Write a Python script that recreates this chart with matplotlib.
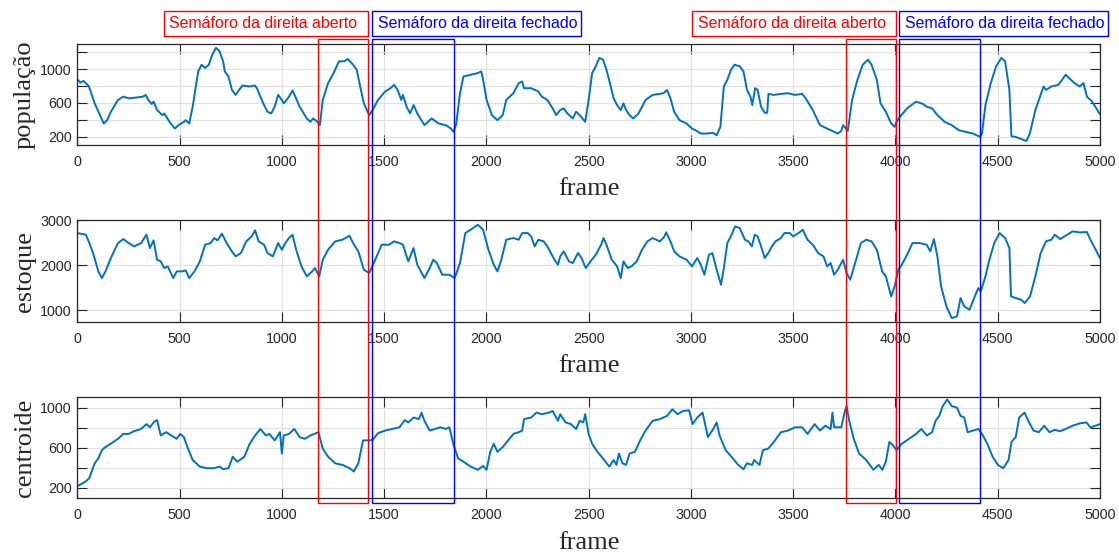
import matplotlib
matplotlib.use("Agg")
import matplotlib.pyplot as plt
from matplotlib.patches import Rectangle
from matplotlib.transforms import blended_transform_factory

plt.rcParams["font.family"] = ["Liberation Sans", "DejaVu Sans"]

# ---------------------------------------------------------------- data
pop_frames = [0, 15, 30, 56, 85, 129, 146, 164, 199, 225, 251, 286, 321, 334, 347, 364, 373, 390, 416, 425,
              451, 477, 495, 521, 530, 547, 564, 591, 608, 625, 643, 660, 678, 695, 713, 721, 739, 756, 774, 791,
              808, 843, 869, 878, 895, 913, 930, 948, 965, 982, 1000, 1009, 1017, 1035, 1052, 1066, 1087, 1122,
              1139, 1153, 1174, 1186, 1200, 1226, 1253, 1279, 1305, 1322, 1348, 1366, 1383, 1401, 1427, 1444,
              1470, 1505, 1531, 1549, 1566, 1584, 1592, 1610, 1627, 1644, 1662, 1697, 1732, 1767, 1801, 1827,
              1840, 1853, 1871, 1888, 1923, 1958, 1975, 1984, 2001, 2027, 2054, 2080, 2097, 2132, 2158, 2175,
              2184, 2219, 2254, 2271, 2298, 2324, 2341, 2361, 2378, 2396, 2422, 2439, 2456, 2483, 2500, 2517,
              2535, 2552, 2570, 2587, 2604, 2622, 2639, 2657, 2670, 2683, 2700, 2718, 2744, 2778, 2813, 2848,
              2865, 2883, 2900, 2918, 2944, 2979, 3005, 3022, 3048, 3074, 3109, 3126, 3144, 3161, 3178, 3196,
              3213, 3239, 3257, 3274, 3291, 3300, 3314, 3326, 3343, 3361, 3373, 3379, 3405, 3440, 3474, 3509,
              3544, 3561, 3596, 3631, 3683, 3718, 3735, 3744, 3767, 3788, 3814, 3840, 3866, 3883, 3909, 3927,
              3953, 3979, 3996, 4005, 4022, 4057, 4101, 4135, 4153, 4179, 4205, 4240, 4275, 4310, 4344, 4379,
              4414, 4423, 4440, 4466, 4492, 4518, 4536, 4557, 4567, 4588, 4623, 4640, 4657, 4684, 4701, 4724,
              4736, 4762, 4797, 4832, 4849, 4875, 4901, 4919, 4936, 4962, 4997, 5000]
pop_values = [880, 840, 860, 800, 596, 358, 398, 497, 636, 675, 655, 663, 675, 695, 636, 588, 616, 517, 457, 477,
              378, 299, 339, 378, 398, 358, 556, 972, 1051, 1012, 1051, 1170, 1250, 1210, 1091, 972, 913, 754, 695,
              754, 806, 794, 806, 774, 675, 576, 497, 477, 556, 695, 636, 596, 616, 675, 747, 675, 556, 418,
              378, 418, 378, 339, 636, 834, 952, 1091, 1091, 1119, 1051, 992, 794, 596, 457, 517,
              636, 735, 774, 814, 754, 636, 695, 556, 477, 576, 477, 339, 418, 358, 339, 299,
              260, 358, 715, 913, 933, 952, 972, 873, 636, 457, 398, 457, 636, 715, 834, 853,
              774, 774, 735, 675, 636, 537, 457, 517, 537, 477, 418, 497, 457, 378, 636, 952,
              1032, 1131, 1111, 992, 834, 655, 576, 517, 596, 517, 457, 418, 477, 636, 695, 707,
              715, 754, 655, 497, 398, 358, 299, 279, 240, 240, 248, 220, 319, 794, 873, 992,
              1051, 1032, 972, 754, 675, 576, 774, 754, 556, 485, 485, 707, 695, 707, 715, 695,
              707, 655, 517, 339, 279, 240, 271, 339, 271, 636, 873, 1051, 1111, 1051, 873, 596,
              497, 358, 319, 378, 438, 537, 616, 588, 556, 537, 457, 378, 339, 279, 259, 240,
              200, 240, 576, 834, 1032, 1131, 1091, 754, 208, 200, 168, 152, 240, 517, 636, 794,
              754, 794, 814, 933, 893, 834, 794, 834, 675, 616, 477, 470]

stock_frames = [0, 42, 59, 77, 103, 120, 138, 164, 199, 225, 251, 277, 312, 338, 355, 373, 390, 408, 425, 442,
                469, 486, 512, 530, 547, 573, 599, 625, 652, 669, 686, 707, 730, 756, 774, 800, 826, 852, 869,
                887, 913, 930, 956, 982, 1000, 1017, 1035, 1052, 1070, 1096, 1122, 1148, 1162, 1183, 1200, 1226,
                1261, 1296, 1331, 1348, 1374, 1401, 1427, 1453, 1488, 1523, 1549, 1575, 1592, 1618, 1644, 1662,
                1697, 1723, 1740, 1758, 1784, 1819, 1845, 1871, 1897, 1923, 1958, 1984, 2010, 2036, 2054, 2071,
                2097, 2132, 2158, 2175, 2202, 2219, 2236, 2254, 2280, 2298, 2333, 2350, 2361, 2378, 2404, 2422,
                2448, 2465, 2486, 2509, 2535, 2561, 2573, 2587, 2613, 2639, 2657, 2670, 2691, 2709, 2735, 2761,
                2787, 2813, 2848, 2869, 2879, 2900, 2918, 2944, 2979, 3005, 3031, 3048, 3066, 3088, 3105, 3126,
                3147, 3161, 3178, 3199, 3216, 3239, 3264, 3281, 3298, 3312, 3326, 3343, 3361, 3378, 3396, 3413,
                3440, 3457, 3483, 3500, 3526, 3547, 3570, 3596, 3622, 3648, 3666, 3683, 3700, 3718, 3744, 3761,
                3779, 3805, 3831, 3857, 3883, 3909, 3935, 3953, 3979, 3996, 4014, 4031, 4057, 4083, 4118, 4153,
                4170, 4188, 4205, 4223, 4249, 4275, 4301, 4318, 4336, 4362, 4388, 4405, 4417, 4440, 4457, 4483,
                4509, 4536, 4557, 4565, 4588, 4614, 4632, 4658, 4684, 4710, 4736, 4762, 4779, 4805, 4840, 4866,
                4901, 4936, 4953, 4979, 5000]
stock_values = [2710, 2673, 2488, 2266, 1859, 1711, 1859, 2155, 2488, 2577, 2488, 2414, 2488, 2673, 2377, 2548,
                2118, 2081, 1933, 1970, 1711, 1859, 1859, 1882, 1711, 1859, 2081, 2451, 2488, 2599, 2548, 2696,
                2488, 2303, 2192, 2266, 2525, 2636, 2770, 2525, 2451, 2266, 2192, 2488, 2340, 2488, 2599, 2673,
                2340, 1970, 1748, 1859, 1933, 1748, 2118, 2340, 2525, 2562, 2651, 2488, 2303, 1896, 1822, 2081,
                2451, 2451, 2525, 2488, 2451, 2081, 2377, 2007, 1711, 1933, 2118, 2044, 1785, 1785, 1711, 2044,
                2710, 2784, 2895, 2784, 2340, 2007, 1859, 2081, 2562, 2599, 2562, 2710, 2710, 2636, 2414, 2562,
                2525, 2414, 2118, 2007, 2192, 2303, 2081, 2044, 2266, 2155, 1933, 2081, 2229, 2451, 2599, 2451,
                2118, 1970, 1711, 2081, 1933, 1970, 2081, 2340, 2525, 2599, 2525, 2622, 2725, 2525, 2303, 2192,
                2118, 1970, 2155, 2007, 1785, 2229, 2266, 1896, 1563, 1933, 2488, 2673, 2858, 2821, 2562, 2525,
                2414, 2673, 2636, 2414, 2155, 2266, 2414, 2525, 2599, 2710, 2710, 2636, 2710, 2784, 2562, 2451,
                2266, 2192, 1970, 2044, 1785, 1896, 2118, 1822, 1674, 2081, 2488, 2562, 2525, 2340, 1859, 1748,
                1304, 1526, 1896, 2007, 2229, 2488, 2488, 2451, 2303, 2577, 2192, 1526, 1082, 823, 860, 1267,
                1082, 1008, 1304, 1489, 1415, 1748, 2081, 2488, 2710, 2599, 2377, 1304, 1267, 1230, 1156, 1304,
                1748, 2266, 2525, 2562, 2673, 2577, 2673, 2747, 2725, 2732, 2562, 2340, 2155]

cent_frames = [0, 16, 42, 59, 73, 85, 103, 120, 138, 164, 199, 225, 251, 277, 312, 338, 355, 373, 390, 408,
               434, 460, 486, 503, 521, 538, 564, 599, 634, 669, 695, 713, 739, 760, 782, 817, 843, 869, 895,
               922, 939, 965, 991, 1000, 1009, 1035, 1061, 1087, 1113, 1139, 1179, 1200, 1226, 1261, 1296, 1331,
               1352, 1374, 1397, 1427, 1444, 1470, 1505, 1540, 1575, 1601, 1618, 1644, 1670, 1683, 1697, 1723,
               1749, 1775, 1801, 1819, 1840, 1862, 1888, 1923, 1958, 1984, 2001, 2019, 2036, 2054, 2080, 2106,
               2132, 2158, 2175, 2184, 2219, 2245, 2271, 2306, 2324, 2350, 2361, 2387, 2413, 2439, 2456, 2474,
               2483, 2500, 2517, 2543, 2570, 2601, 2622, 2636, 2648, 2665, 2683, 2700, 2726, 2752, 2778, 2813,
               2848, 2883, 2909, 2935, 2961, 2991, 3008, 3031, 3057, 3083, 3109, 3126, 3140, 3170, 3205, 3231,
               3257, 3274, 3300, 3309, 3335, 3352, 3378, 3405, 3440, 3474, 3509, 3544, 3570, 3605, 3631, 3657,
               3683, 3692, 3700, 3735, 3753, 3761, 3774, 3796, 3822, 3857, 3892, 3918, 3936, 3953, 3970, 3988,
               4005, 4031, 4066, 4101, 4127, 4153, 4179, 4196, 4214, 4231, 4253, 4275, 4301, 4318, 4336, 4353,
               4379, 4405, 4423, 4449, 4475, 4501, 4527, 4553, 4567, 4588, 4605, 4631, 4649, 4675, 4701, 4727,
               4753, 4779, 4805, 4832, 4866, 4901, 4933, 4953, 4979, 5000]
cent_values = [215, 232, 264, 297, 379, 444, 493, 575, 607, 640, 689, 738, 738, 765, 787, 836, 804, 853, 876, 722,
               755, 722, 689, 738, 706, 608, 477, 411, 395, 395, 411, 385, 395, 510, 460, 510, 640, 722, 787,
               722, 738, 673, 755, 542, 722, 738, 787, 706, 689, 722, 755, 591, 510, 444, 428, 395,
               362, 444, 673, 673, 679, 745, 771, 787, 804, 876, 853, 902, 886, 951, 869, 771,
               787, 804, 787, 804, 624, 493, 460, 411, 379, 418, 379, 559, 640, 559, 607, 673,
               738, 755, 771, 886, 902, 951, 935, 951, 967, 869, 935, 853, 836, 787, 869, 853,
               935, 738, 640, 559, 493, 411, 477, 428, 542, 444, 428, 542, 559, 673, 771, 869,
               886, 918, 984, 935, 967, 974, 836, 902, 951, 706, 787, 853, 722, 575, 493, 428,
               385, 444, 428, 477, 428, 575, 591, 657, 755, 771, 804, 804, 738, 836, 771, 820,
               787, 951, 804, 804, 967, 1016, 869, 689, 542, 477, 379, 428, 379, 460, 657, 624,
               575, 640, 689, 738, 787, 722, 755, 869, 918, 1016, 1082, 1016, 1000, 918, 902, 755,
               771, 787, 738, 640, 510, 428, 395, 477, 657, 706, 902, 951, 869, 771, 755, 820,
               755, 778, 765, 787, 820, 843, 853, 804, 820, 836]

x_ticks = list(range(0, 5001, 500))
pop_ticks = [200, 400, 600, 800, 1000, 1200]
pop_labels = ["200", "", "600", "", "1000", ""]
stock_ticks = [1000, 2000, 3000]
stock_labels = ["1000", "2000", "3000"]
cent_ticks = [200, 400, 600, 800, 1000]
cent_labels = ["200", "", "600", "", "1000"]

# signal phases: (start frame, end frame, caption, colour, caption side)
phases = [
    (1178, 1421, "Semáforo da direita aberto", "red", "right"),
    (1441, 1840, "Semáforo da direita fechado", "blue", "left"),
    (3760, 4003, "Semáforo da direita aberto", "red", "right"),
    (4018, 4415, "Semáforo da direita fechado", "blue", "left"),
]

# ---------------------------------------------------------------- figure
W, H = 1119, 552
fig = plt.figure(figsize=(W / 100, H / 100), dpi=100)

LINE = "#0072BD"
INK = "#262626"
GRID = "#e1e1e1"
SERIF = ["Liberation Serif", "DejaVu Serif"]


def px_rect(left, top, right, bottom):
    return [left / W, 1 - bottom / H, (right - left) / W, (bottom - top) / H]


panels = [
    (px_rect(77.3, 44, 1100, 145), pop_frames, pop_values, "população", (105, 1295), pop_ticks, pop_labels),
    (px_rect(77.3, 220, 1100, 322), stock_frames, stock_values, "estoque", (735, 3000), stock_ticks, stock_labels),
    (px_rect(77.3, 397, 1100, 498.3), cent_frames, cent_values, "centroide", (94, 1107), cent_ticks, cent_labels),
]

axes = []
for rect, fr, vals, name, ylim, yt, ytl in panels:
    ax = fig.add_axes(rect)
    ax.plot(fr, vals, color=LINE, lw=1.4)
    ax.set_xlim(0, 5000)
    ax.set_ylim(*ylim)
    ax.set_xticks(x_ticks)
    ax.set_yticks(yt)
    ax.set_yticklabels(ytl)
    ax.grid(True, color=GRID, lw=0.9)
    ax.set_axisbelow(True)
    ax.tick_params(direction="in", length=7.5, width=0.8, color=INK, labelcolor=INK,
                   labelsize=10.3, top=True, right=True)
    ax.tick_params(axis="x", pad=7)
    ax.tick_params(axis="y", pad=4)
    for s in ax.spines.values():
        s.set_color(INK)
        s.set_linewidth(0.9)
    ax.set_xlabel("frame", fontfamily=SERIF, fontsize=19, color=INK, labelpad=7)
    ax.set_ylabel(name, fontfamily=SERIF, fontsize=19, color=INK, labelpad=3)
    axes.append(ax)

# phase frames spanning all three panels, plus captions above
trans = blended_transform_factory(axes[0].transData, fig.transFigure)
top_px, bot_px = 39, 503
box_top, box_bot = 10.7, 36
for x0, x1, caption, colour, side in phases:
    fig.add_artist(Rectangle((x0, 1 - bot_px / H), x1 - x0, (bot_px - top_px) / H,
                             transform=trans, fill=False, edgecolor=colour, lw=1.0, clip_on=False))
    if side == "right":
        right = axes[0].transData.transform((x1, 0))[0]
        left = right - 204
    else:
        left = axes[0].transData.transform((x0, 0))[0]
        right = left + 209
    fig.add_artist(Rectangle((left / W, 1 - box_bot / H), (right - left) / W, (box_bot - box_top) / H,
                             transform=fig.transFigure, fill=False, edgecolor=colour, lw=1.0))
    fig.text((left + 5.5) / W, 1 - (box_top + box_bot) / 2 / H, caption, color=colour,
             fontsize=11.4, ha="left", va="center")

fig.savefig("out.png", dpi=100)
